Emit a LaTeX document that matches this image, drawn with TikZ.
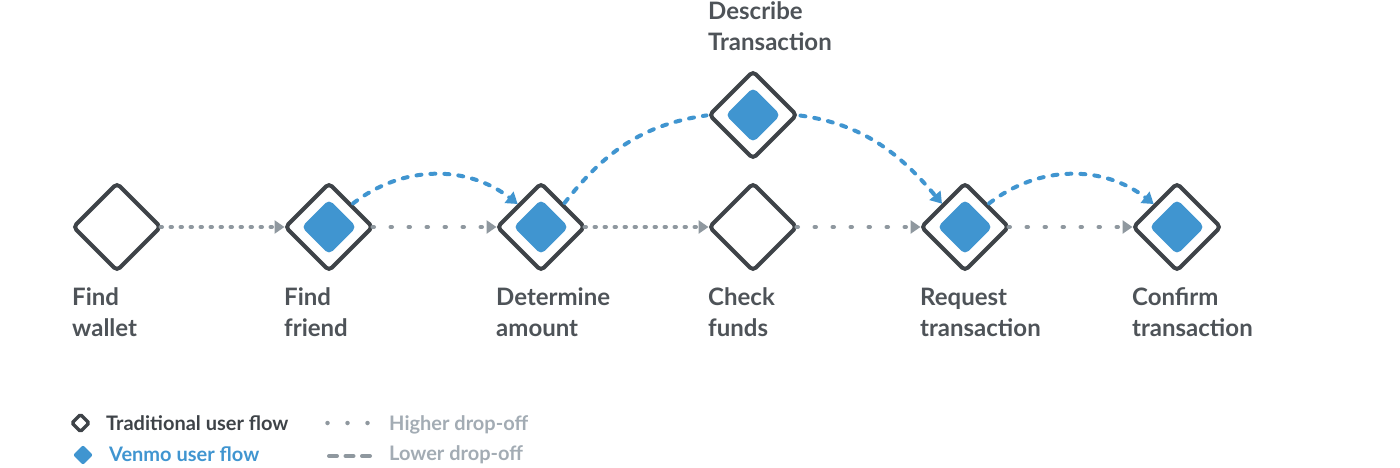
\documentclass[tikz,border=0pt]{standalone}
\usepackage{fontspec}
\setmainfont{Lato}
\usetikzlibrary{shapes.geometric,arrows.meta}
\definecolor{darkc}{HTML}{3E4348}
\definecolor{bluec}{HTML}{4095D0}
\definecolor{grayc}{HTML}{8F989F}
\definecolor{lblc}{HTML}{4E5358}
\definecolor{legc}{HTML}{A3ACB4}
\newcommand\mystrut{\rule{0pt}{20pt}}
\begin{document}
\begin{tikzpicture}[x=1pt,y=1pt,
  outerd/.style={diamond, draw=darkc, line width=4pt, minimum width=87pt, minimum height=87pt, inner sep=0pt, outer sep=0pt, rounded corners=4pt, fill=white},
  innerd/.style={diamond, fill=bluec, minimum width=55pt, minimum height=55pt, inner sep=0pt, outer sep=0pt, rounded corners=5pt},
  lbl/.style={anchor=north west, inner sep=0pt, align=left, text=lblc, font=\fontsize{24}{31}\selectfont\bfseries},
  legtxt/.style={anchor=base west, inner sep=0pt, font=\fontsize{20}{22}\selectfont\bfseries},
  densedots/.style={draw=grayc, line width=4pt, line cap=round, dash pattern=on 1.5pt off 8.5pt},
  sparsedots/.style={draw=grayc, line width=4pt, line cap=round, dash pattern=on 1.5pt off 16.5pt},
  bluedash/.style={draw=bluec, line width=4pt, line cap=round, dash pattern=on 5pt off 9pt},
  graytip/.style={-{Triangle[length=10pt,width=13pt]}, shorten >=1pt},
  bluetip/.style={-{Triangle[length=11pt,width=14pt]}, shorten >=2pt},
  legdot/.style={fill=grayc, circle, inner sep=0pt, minimum size=4.5pt},
]
\useasboundingbox (0,0) rectangle (1400,-468);

% nodes
\node[outerd] (wallet) at (117,-227) {};
\node[outerd] (friend) at (329,-227) {};
\node[innerd] (friendv) at (friend) {};
\node[outerd] (determine) at (541,-227) {};
\node[innerd] (determinev) at (determine) {};
\node[outerd] (funds) at (753,-227) {};
\node[outerd] (describe) at (753,-115) {};
\node[innerd] (describev) at (describe) {};
\node[outerd] (request) at (965,-227) {};
\node[innerd] (requestv) at (request) {};
\node[outerd] (confirm) at (1177,-227) {};
\node[innerd] (confirmv) at (confirm) {};

% traditional connectors
\draw[densedots, graytip] (wallet.east) -- (friend.west);
\draw[sparsedots, graytip] (friend.east) -- (determine.west);
\draw[densedots, graytip] (determine.east) -- (funds.west);
\draw[sparsedots, graytip] (funds.east) -- (request.west);
\draw[sparsedots, graytip] (request.east) -- (confirm.west);

% venmo connectors
\draw[bluedash, bluetip, shorten <=3pt] (friend.north east) to[out=38,in=142] (determine.north west);
\draw[bluedash, shorten <=3pt, shorten >=3pt] (determine.north east) to[out=52,in=188] (describe.west);
\draw[bluedash, bluetip, shorten <=4pt] (describe.east) to[out=-8,in=130] (request.north west);
\draw[bluedash, bluetip, shorten <=3pt] (request.north east) to[out=38,in=142] (confirm.north west);

% labels
\node[lbl] (lwallet) at (72,-285) {\mystrut Find\\wallet};
\node[lbl] (lfriend) at (284,-285) {\mystrut Find\\friend};
\node[lbl] (ldetermine) at (496,-285) {\mystrut Determine\\amount};
\node[lbl] (lfunds) at (708,-285) {\mystrut Check\\funds};
\node[lbl] (ldescribe) at (708,1) {\mystrut Describe\\Transaction};
\node[lbl] (lrequest) at (920,-285) {\mystrut Request\\transaction};
\node[lbl] (lconfirm) at (1132,-285) {\mystrut Confirm\\transaction};

% legend
\node[diamond, draw=darkc, line width=3.5pt, minimum width=17pt, minimum height=17pt, inner sep=0pt, outer sep=0pt, rounded corners=1.5pt] (legtrad) at (80.5,-423) {};
\node[diamond, fill=bluec, minimum width=20pt, minimum height=20pt, inner sep=0pt, rounded corners=2pt] (legven) at (83,-455) {};
\node[legtxt, text=darkc] (legtradtxt) at (106,-430) {Traditional user flow};
\node[legtxt, text=bluec] (legventxt) at (109,-461) {Venmo user flow};
\node[legdot] (hd1) at (327.5,-423) {};
\node[legdot] (hd2) at (347.5,-423) {};
\node[legdot] (hd3) at (367.5,-423) {};
\coordinate (ld1) at (329,-456);
\coordinate (ld2) at (370,-456);
\draw[draw=grayc, line width=4pt, line cap=round, dash pattern=on 8pt off 8.5pt] (ld1) -- (ld2);
\node[legtxt, text=legc] (leghigh) at (389,-430) {Higher drop-off};
\node[legtxt, text=legc] (leglow) at (389,-460) {Lower drop-off};
\end{tikzpicture}
\end{document}
